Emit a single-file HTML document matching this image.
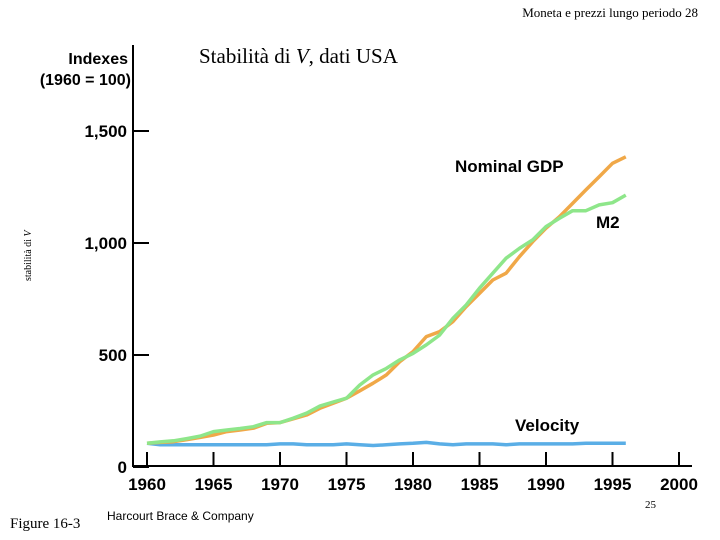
<!DOCTYPE html>
<html><head><meta charset="utf-8"><style>
body{margin:0;background:#fff;}
svg{display:block;}
.s{font-family:"Liberation Sans",sans-serif;font-weight:bold;}
.r{font-family:"Liberation Serif",serif;}
</style></head><body>
<svg id="c" width="720" height="540" xmlns="http://www.w3.org/2000/svg">
<text class="r" x="698" y="17" font-size="13" text-anchor="end">Moneta e prezzi lungo periodo  28</text>
<text class="r" x="199" y="63" font-size="21">Stabilità di <tspan font-style="italic">V</tspan>, dati USA</text>
<text class="s" x="128" y="64" font-size="16" text-anchor="end">Indexes</text>
<text class="s" x="131" y="85" font-size="16" text-anchor="end">(1960 = 100)</text>
<text class="r" x="0" y="0" font-size="10" transform="translate(31,281) rotate(-90)">stabilità di <tspan font-style="italic">V</tspan></text>
<text class="r" x="10" y="528" font-size="15">Figure 16-3</text>
<text x="107" y="520" font-size="12" font-family="Liberation Sans,sans-serif">Harcourt Brace &amp; Company</text>
<text class="r" x="645" y="508" font-size="11">25</text>
<g id="axes"></g>
<g id="series"></g>
<text class="s" x="455" y="172" font-size="17">Nominal GDP</text>
<text class="s" x="596" y="228" font-size="17">M2</text>
<text class="s" x="515" y="431" font-size="17">Velocity</text>
</svg>
<script>
const years=[1960,1961,1962,1963,1964,1965,1966,1967,1968,1969,1970,1971,1972,1973,1974,1975,1976,1977,1978,1979,1980,1981,1982,1983,1984,1985,1986,1987,1988,1989,1990,1991,1992,1993,1994,1995,1996];
const gdp=[106,110,113,122,132,143,158,165,173,195,198,215,232,262,285,307,340,374,411,470,515,582,604,649,716,775,835,865,939,1006,1066,1117,1177,1237,1296,1356,1385];
const m2=[106,112,117,127,138,158,165,172,180,198,198,218,240,272,290,307,366,411,440,478,507,545,589,664,723,798,865,932,976,1014,1073,1110,1144,1144,1170,1180,1214];
const velocity=[106,99,99,99,99,99,99,99,99,99,103,103,99,99,99,103,99,96,99,103,106,110,103,99,103,103,103,99,103,103,103,103,103,106,106,106,106];
const yTicks=[0,500,1000,1500];
const yTickLabels=["0","500","1,000","1,500"];
const xTicks=[1960,1965,1970,1975,1980,1985,1990,1995,2000];
const NS="http://www.w3.org/2000/svg";
function X(y){return 147+(y-1960)*13.3;}
function Y(v){return 467-v*0.224;}
const ax=document.getElementById('axes');
function mk(t,a,p){const e=document.createElementNS(NS,t);for(const k in a)e.setAttribute(k,a[k]);(p||ax).appendChild(e);return e;}
let e=mk('line',{x1:133,y1:45,x2:133,y2:466,stroke:'#000','stroke-width':2});


e=mk('line',{x1:132,y1:466,x2:692,y2:466,stroke:'#000','stroke-width':2});


yTicks.forEach((v,i)=>{
 let t=mk('line',{x1:133,y1:Y(v),x2:149,y2:Y(v),stroke:'#000','stroke-width':2});
 
 
 let l=mk('text',{x:127,y:Y(v)+6,'text-anchor':'end','font-size':17,class:'s'});
 l.textContent=yTickLabels[i];
 
 
});
xTicks.forEach(v=>{
 let t=mk('line',{x1:X(v),y1:452,x2:X(v),y2:466,stroke:'#000','stroke-width':2});
 
 
 let l=mk('text',{x:X(v),y:490,'text-anchor':'middle','font-size':17,class:'s'});
 l.textContent=String(v);
 
 
});
const sg=document.getElementById('series');
function line(arr,col,name){
 const d=arr.map((v,i)=>(i?'L':'M')+X(years[i]).toFixed(1)+' '+Y(v).toFixed(1)).join(' ');
 const p=mk('path',{d:d,fill:'none',stroke:col,'stroke-width':3.5,'stroke-linejoin':'round'},sg);
 
 
}
line(velocity,'#5aaee6','velocity-line');
line(gdp,'#f0a848','nominal-gdp-line');
line(m2,'#8ee68a','m2-line');
</script>
</body></html>
